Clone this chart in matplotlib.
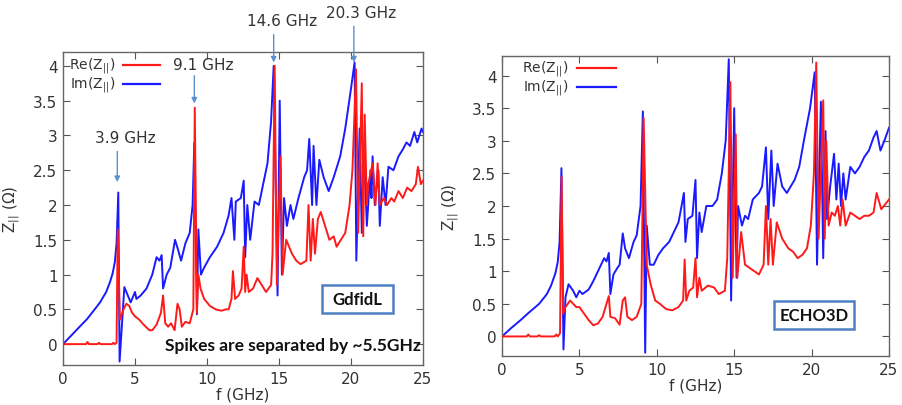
import numpy as np
import matplotlib
matplotlib.use("Agg")
import matplotlib.pyplot as plt
from matplotlib.lines import Line2D
from matplotlib.patches import Rectangle

# ---------------- data: GdfidL (left) ----------------
gd_im_f = [0, 0.6, 1.2, 1.67, 2.2, 2.57, 3.0, 3.26, 3.45, 3.6, 3.72, 3.84, 3.93, 4.26, 4.7, 5.0, 5.1, 5.4, 5.8, 6.2, 6.5,
           6.7, 6.85, 6.95, 7.2, 7.45, 7.78, 8.0, 8.2, 8.5, 8.8, 9.0, 9.12, 9.3, 9.4, 9.58, 9.8,
           10.2, 10.7, 11.15, 11.5, 11.7, 11.9, 12.0, 12.35, 12.55, 12.65, 12.8, 13.0, 13.3, 13.6,
           13.8, 14.2, 14.45, 14.63, 14.9, 15.05, 15.2, 15.35, 15.55, 15.8, 16.0, 16.35, 16.75,
           16.95, 17.1, 17.3, 17.4, 17.6, 17.8, 18.1, 18.45, 18.8, 19.25, 19.6, 19.95, 20.25,
           20.37, 20.6, 20.75, 20.9, 21.1, 21.35, 21.42, 21.5, 21.65, 21.9, 22.0, 22.2, 22.4,
           22.6, 22.95, 23.3, 23.6, 23.85, 24.1, 24.4, 24.6, 24.9, 25.0]
gd_im_z = [0, 0.13, 0.26, 0.36, 0.5, 0.6, 0.75, 0.89, 1.02, 1.18, 1.45, 2.18, -0.25, 0.82, 0.6, 0.75, 0.65, 0.7, 0.8, 1.0, 1.25,
           1.2, 1.28, 0.8, 1.0, 1.1, 1.5, 1.35, 1.2, 1.45, 1.6, 2.0, 2.9, 0.43, 1.65, 1.0, 1.1,
           1.25, 1.4, 1.6, 1.85, 2.1, 1.5, 2.05, 2.1, 2.35, 1.25, 2.0, 1.5, 2.05, 2.0,
           2.2, 2.6, 3.2, 4.0, 0.7, 3.5, 1.0, 2.1, 1.7, 2.0, 1.8, 2.1, 2.4,
           2.5, 2.95, 2.0, 2.85, 2.0, 2.65, 2.4, 2.2, 2.4, 2.7, 3.1, 3.6, 4.05,
           1.2, 3.1, 1.6, 2.8, 1.7, 2.5, 2.1, 2.7, 2.0, 2.5, 1.7, 2.4, 2.0,
           2.55, 2.5, 2.7, 2.8, 2.9, 2.85, 3.05, 2.9, 3.1, 3.05]

gd_re_f = [0, 1.6, 1.7, 1.8, 2.4, 2.5, 2.6, 3.4, 3.5, 3.6, 3.72, 3.8, 3.95, 4.2, 4.4, 4.6, 4.8,
           5.0, 5.3, 5.6, 6.0, 6.2, 6.5, 6.8, 6.95, 7.1, 7.3, 7.5, 7.75, 7.95, 8.1, 8.25, 8.5,
           8.8, 9.05, 9.15, 9.3, 9.4, 9.55, 9.8, 10.2, 10.6, 11.0, 11.3, 11.5, 11.7, 11.8, 11.95,
           12.2, 12.4, 12.55, 12.65, 12.75, 12.9, 13.2, 13.5, 13.8, 14.1, 14.45, 14.55, 14.7,
           14.85, 15.1, 15.25, 15.5, 15.7, 15.9, 16.2, 16.5, 16.9, 17.05, 17.2, 17.35, 17.5,
           17.7, 17.9, 18.2, 18.5, 18.8, 19.0, 19.3, 19.6, 19.9, 20.1, 20.35, 20.5, 20.75,
           20.85, 20.95, 21.1, 21.2, 21.5, 21.7, 21.85, 22.0, 22.3, 22.5, 22.8, 23.0, 23.3,
           23.6, 23.9, 24.2, 24.5, 24.65, 24.85, 25.0]
gd_re_z = [0, 0, 0.03, 0, 0, 0.02, 0, 0, 0.02, 0, 0.02, 1.65, 0.35, 0.5, 0.58, 0.55, 0.45,
           0.4, 0.35, 0.28, 0.2, 0.2, 0.28, 0.45, 0.7, 0.3, 0.25, 0.3, 0.2, 0.58, 0.5, 0.25, 0.32,
           0.3, 0.5, 3.4, 0.45, 1.0, 0.8, 0.65, 0.55, 0.5, 0.48, 0.5, 0.5, 0.65, 1.05, 0.65,
           0.7, 0.8, 1.4, 0.75, 1.0, 0.75, 0.8, 0.95, 0.85, 0.75, 0.85, 1.3, 4.0,
           0.85, 2.7, 1.0, 1.5, 1.4, 1.3, 1.2, 1.15, 1.2, 2.0, 1.2, 1.8, 1.3,
           1.8, 1.9, 1.7, 1.5, 1.55, 1.4, 1.5, 1.6, 2.0, 2.5, 3.95, 1.6, 3.75,
           1.55, 3.3, 2.0, 2.3, 2.6, 2.0, 2.6, 2.0, 2.1, 2.0, 2.1, 2.05, 2.2,
           2.1, 2.25, 2.2, 2.3, 2.55, 2.3, 2.35]

# ---------------- data: ECHO3D (right) ----------------
ec_im_f = [0, 0.6, 1.2, 1.66, 2.4, 2.9, 3.17, 3.45, 3.6, 3.72, 3.84, 3.97, 4.1, 4.3, 4.6, 4.8, 5.0, 5.2, 5.6, 5.9,
           6.2, 6.6, 6.75, 6.9, 7.0, 7.2, 7.45, 7.6, 7.8, 7.95, 8.2, 8.5, 8.7, 8.95, 9.1, 9.25,
           9.35, 9.55, 9.8, 10.1, 10.4, 10.8, 11.1, 11.4, 11.6, 11.75, 11.85, 12.0, 12.3, 12.5,
           12.6, 12.75, 12.9, 13.2, 13.6, 13.9, 14.2, 14.45, 14.65, 14.8, 15.0, 15.15, 15.25,
           15.5, 15.7, 15.9, 16.2, 16.6, 16.8, 17.05, 17.2, 17.4, 17.55, 17.8, 18.1, 18.4,
           18.9, 19.2, 19.5, 19.9, 20.2, 20.35, 20.6, 20.75, 20.9, 21.0, 21.2, 21.45, 21.6,
           21.75, 21.9, 22.05, 22.2, 22.5, 22.8, 23.1, 23.4, 23.7, 24.0, 24.2, 24.45, 24.7, 25.0]
ec_im_z = [0, 0.13, 0.25, 0.35, 0.5, 0.65, 0.78, 0.97, 1.14, 1.45, 2.58, -0.2, 0.6, 0.8, 0.7, 0.6, 0.7, 0.65, 0.72, 0.85,
           1.0, 1.2, 1.15, 1.28, 0.65, 0.95, 1.05, 1.1, 1.58, 1.35, 1.2, 1.45, 1.55, 2.0, 3.45, -0.25,
           1.7, 1.1, 1.1, 1.25, 1.35, 1.45, 1.6, 1.75, 2.0, 2.2, 1.45, 1.8, 1.85, 2.4,
           1.2, 1.9, 1.6, 2.0, 2.0, 2.1, 2.5, 3.0, 4.25, 0.55, 3.5, 0.9, 2.0,
           1.7, 1.85, 1.8, 2.1, 2.2, 2.3, 2.9, 1.8, 2.85, 2.0, 2.65, 2.3, 2.2,
           2.4, 2.6, 3.0, 3.5, 4.05, 1.1, 3.6, 1.2, 3.15, 1.8, 2.3, 2.8, 2.1,
           2.65, 2.0, 2.5, 2.1, 2.6, 2.5, 2.6, 2.75, 2.85, 3.05, 3.15, 2.85, 3.0, 3.2]

ec_re_f = [0, 1.6, 1.7, 1.8, 2.3, 2.4, 2.5, 3.4, 3.5, 3.6, 3.75, 3.85, 3.95, 4.1, 4.4, 4.6,
           4.8, 5.0, 5.3, 5.6, 5.9, 6.2, 6.5, 6.75, 6.9, 7.0, 7.3, 7.6, 7.8, 7.95, 8.1, 8.4, 8.7,
           9.0, 9.15, 9.35, 9.6, 9.9, 10.2, 10.6, 11.0, 11.4, 11.7, 11.8, 11.9, 12.1, 12.35, 12.5,
           12.6, 12.75, 12.9, 13.3, 13.7, 14.0, 14.4, 14.55, 14.75, 14.9, 15.1, 15.2, 15.45,
           15.7, 16.0, 16.3, 16.6, 16.9, 17.05, 17.2, 17.35, 17.5, 17.75, 18.1, 18.5, 18.8,
           19.1, 19.4, 19.7, 19.95, 20.15, 20.3, 20.45, 20.75, 20.85, 20.95, 21.1, 21.3, 21.5,
           21.7, 21.85, 22.0, 22.2, 22.5, 22.8, 23.1, 23.4, 23.7, 24.0, 24.2, 24.5, 25.0]
ec_re_z = [0, 0, 0.03, 0, 0, 0.02, 0, 0, 0.03, 0, 0.05, 2.45, 0.35, 0.45, 0.55, 0.5,
           0.45, 0.45, 0.35, 0.25, 0.17, 0.2, 0.3, 0.5, 0.62, 0.3, 0.28, 0.18, 0.55, 0.6, 0.3, 0.25, 0.3,
           0.5, 3.35, 1.1, 0.8, 0.55, 0.5, 0.42, 0.4, 0.45, 0.55, 1.18, 0.55, 0.7, 0.75, 1.2,
           0.6, 0.9, 0.7, 0.78, 0.75, 0.65, 0.7, 1.2, 3.9, 0.9, 3.1, 0.9, 1.6,
           1.1, 1.05, 1.0, 0.95, 1.1, 2.0, 1.1, 1.8, 1.1, 1.75, 1.5, 1.35, 1.3,
           1.2, 1.25, 1.35, 1.7, 2.5, 4.2, 1.5, 3.62, 1.5, 3.0, 1.7, 1.9, 1.85,
           2.0, 1.7, 2.1, 1.7, 1.9, 1.85, 1.8, 1.85, 1.85, 1.9, 2.2, 1.95, 2.1]

peak_f = [3.77, 9.12, 14.63, 20.2]
peak_top = [2.33, 3.46, 4.05, 4.05]
peak_labels = ["3.9 GHz", "9.1 GHz", "14.6 GHz", "20.3 GHz"]
series_labels = [r'Re(Z$_{||}$)', r'Im(Z$_{||}$)']

xticks = [0, 5, 10, 15, 20, 25]
yticks = [0, 0.5, 1, 1.5, 2, 2.5, 3, 3.5, 4]
ytick_labels = ["0", "0.5", "1", "1.5", "2", "2.5", "3", "3.5", "4"]

plt.rcParams['font.family'] = ['DejaVu Sans']
fig = plt.figure(figsize=(9.02, 4.06), dpi=100)
W, H = 902, 406

def px_axes(l, t, r, b):
    return fig.add_axes([l / W, 1 - b / H, (r - l) / W, (b - t) / H])

axL = px_axes(63, 53, 423, 366)
axR = px_axes(502, 57, 889, 357)

RED = '#ff1a1a'
BLUE = '#1a1aff'
txtc = '#333333'
for ax, ylim, re_f, re_z, im_f, im_z in [
        (axL, (-0.3, 4.2), gd_re_f, gd_re_z, gd_im_f, gd_im_z),
        (axR, (-0.3, 4.3), ec_re_f, ec_re_z, ec_im_f, ec_im_z)]:
    ax.plot(re_f, re_z, color=RED, lw=1.4, zorder=3)
    ax.plot(im_f, im_z, color=BLUE, lw=1.4, zorder=2)
    ax.set_xlim(0, 25)
    ax.set_ylim(*ylim)
    ax.set_xticks(xticks)
    ax.set_yticks(yticks)
    ax.set_yticklabels(ytick_labels)
    ax.tick_params(direction='in', top=True, right=True, length=5, width=0.8,
                   labelsize=11, colors='#555555', labelcolor=txtc, pad=4)
    for s in ax.spines.values():
        s.set_color('#666666')
        s.set_linewidth(1.0)
    ax.set_xlabel('f (GHz)', fontsize=11, color=txtc, labelpad=1)
    ax.set_ylabel(r'Z$_{||}$ ($\Omega$)', fontsize=11, color=txtc, labelpad=8)

# manual gnuplot-style keys (text left of sample line)
def key(text_right, line_x0, line_x1, ys):
    for lab, col, y in zip(series_labels, [RED, BLUE], ys):
        fig.text(text_right / W, 1 - y / H, lab, ha='right', va='center', fontsize=10, color=txtc)
        fig.add_artist(Line2D([line_x0 / W, line_x1 / W], [1 - y / H, 1 - y / H],
                              transform=fig.transFigure, color=col, lw=1.6))

key(115, 123, 160, [66, 85])
key(568, 577, 616, [69, 88])

# annotations on left panel
text_offsets = [(125, 139), (203, 66), (282, 22), (361, 13)]
arrow_start = [2.77, 3.86, 4.45, 4.57]
for f, top, st in zip(peak_f, peak_top, arrow_start):
    axL.annotate('', xy=(f, top), xytext=(f, st), xycoords='data',
                 arrowprops=dict(arrowstyle='-|>', color='#5b8fd0', lw=1.0,
                                 mutation_scale=8, shrinkA=0, shrinkB=0),
                 annotation_clip=False)
for (tx, ty), lab in zip(text_offsets, peak_labels):
    fig.text(tx / W, 1 - ty / H, lab, ha='center', va='center', fontsize=11, color=txtc)

fig.text(421 / W, 1 - 346 / H, 'Spikes are separated by ~5.5GHz', ha='right', va='center',
         fontsize=12.5, fontweight='bold', family='Lato', color='#111111')

def boxed(x0, y0, x1, y1, label):
    fig.patches.append(Rectangle((x0 / W, 1 - y1 / H), (x1 - x0) / W,
                       (y1 - y0) / H, transform=fig.transFigure, fill=True, facecolor='white',
                       edgecolor='#4f7fc4', lw=1.8, zorder=5))
    fig.text((x0 + x1) / 2 / W, 1 - (y0 + y1) / 2 / H, label, ha='center', va='center',
             fontsize=12, fontweight='bold', family='Lato', color='#111111', zorder=6)

boxed(322, 286, 393, 314, 'GdfidL')
boxed(774, 302, 854, 330, 'ECHO3D')

fig.savefig('out.png', dpi=100)
